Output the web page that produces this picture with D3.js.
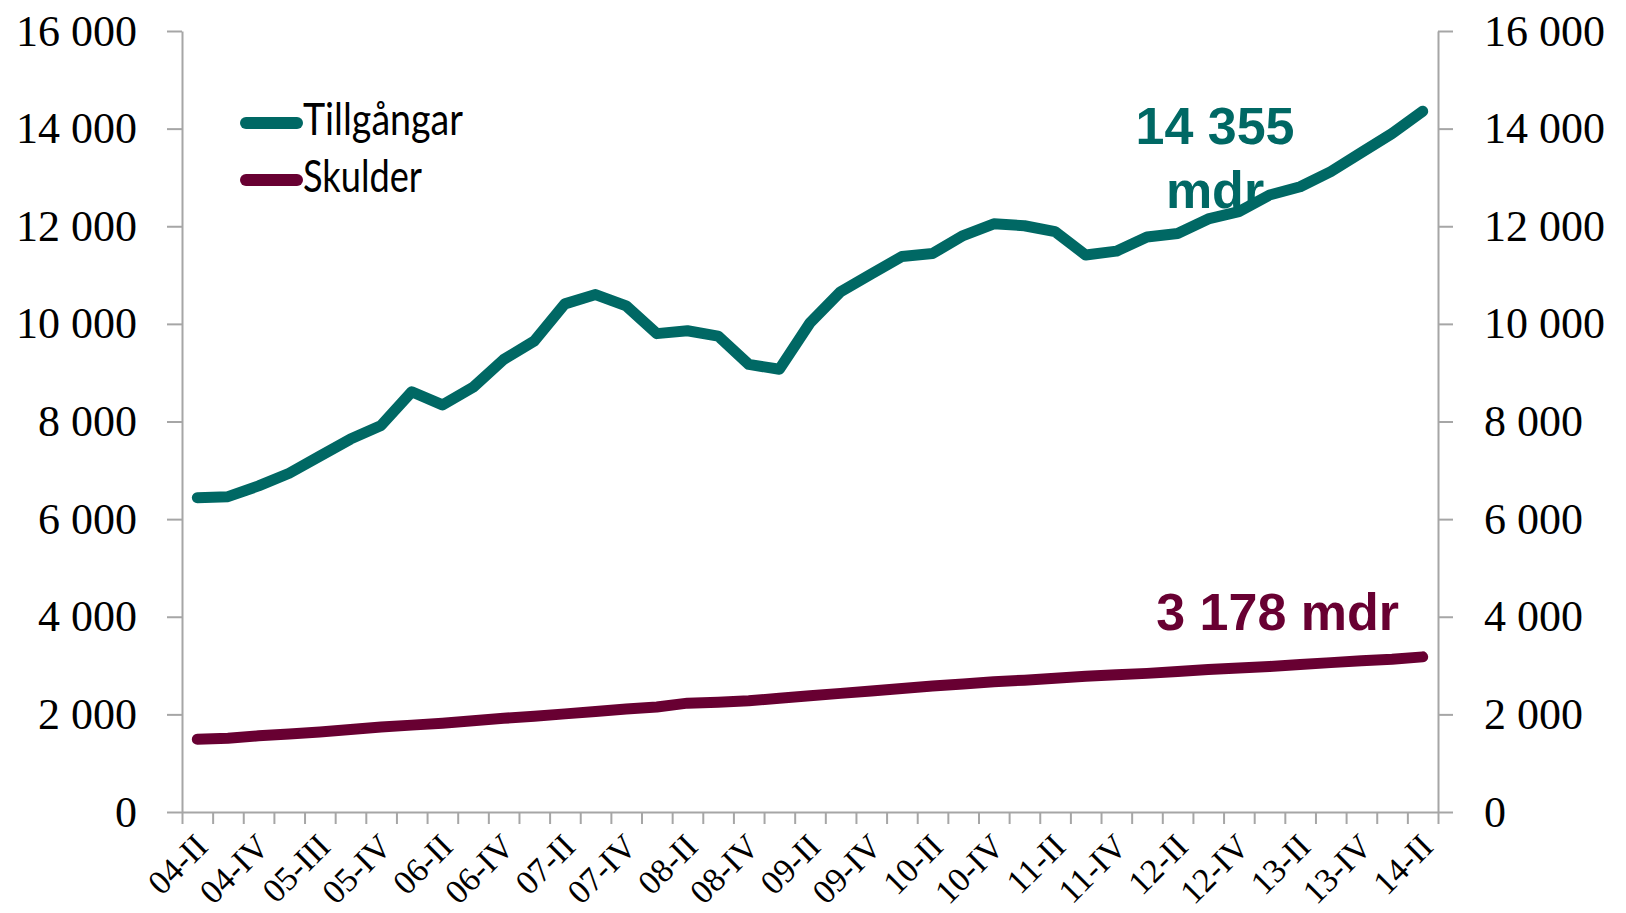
<!DOCTYPE html>
<html>
<head>
<meta charset="utf-8">
<script src="https://cdn.jsdelivr.net/npm/d3@7"></script>
<style>
  body { margin: 0; background: white; }
  svg { display: block; }
</style>
</head>
<body>
<div id="chart"></div>
<script>
// quarters 04-II .. 14-II
var quarters = ["04-II","04-III","04-IV","05-I","05-II","05-III","05-IV","06-I","06-II","06-III","06-IV",
  "07-I","07-II","07-III","07-IV","08-I","08-II","08-III","08-IV","09-I","09-II","09-III","09-IV",
  "10-I","10-II","10-III","10-IV","11-I","11-II","11-III","11-IV","12-I","12-II","12-III","12-IV",
  "13-I","13-II","13-III","13-IV","14-I","14-II"];

// labels shown under every second quarter (as printed in the original)
var tickLabels = ["04-II","04-IV","05-III","05-IV","06-II","06-IV","07-II","07-IV","08-II","08-IV",
  "09-II","09-IV","10-II","10-IV","11-II","11-IV","12-II","12-IV","13-II","13-IV","14-II"];

var tillgangar = [6440, 6460, 6680, 6940, 7290, 7640, 7920, 8610, 8340, 8700, 9270,
  9650, 10410, 10600, 10370, 9800, 9860, 9750, 9170, 9070, 10020, 10660, 11020,
  11380, 11440, 11810, 12050, 12010, 11890, 11410, 11490, 11780, 11850, 12150, 12300,
  12640, 12810, 13120, 13510, 13900, 14355];

var skulder = [1490, 1510, 1560, 1600, 1640, 1690, 1740, 1780, 1820, 1870, 1920,
  1960, 2010, 2060, 2110, 2150, 2230, 2250, 2280, 2330, 2380, 2430, 2480,
  2530, 2580, 2620, 2670, 2700, 2740, 2780, 2810, 2840, 2880, 2920, 2950,
  2980, 3020, 3060, 3100, 3130, 3178];

var yTicks = [0, 2000, 4000, 6000, 8000, 10000, 12000, 14000, 16000];

var teal = "#006864", maroon = "#680032";

var width = 1626, height = 913;
var plotLeft = 182, plotRight = 1438, plotTop = 31, plotBottom = 812;

var svg = d3.select("#chart").append("svg")
  .attr("width", width)
  .attr("height", height);

var x = d3.scaleBand().domain(quarters).range([plotLeft, plotRight]).padding(0);
var y = d3.scaleLinear().domain([0, 16000]).range([plotBottom, plotTop]);

var sv = d3.formatLocale({decimal: ",", thousands: " ", grouping: [3], currency: ["", ""]});
var fmt = sv.format(",d");

function styleAxis(g) {
  g.selectAll("path, line").attr("stroke", "#a6a6a6").attr("stroke-width", 2);
  g.selectAll("text").attr("fill", "#000")
    .style("font-family", "'Liberation Serif', 'Times New Roman', serif");
}

// left axis
svg.append("g")
  .attr("transform", "translate(" + plotLeft + ",0)")
  .call(d3.axisLeft(y).tickValues(yTicks).tickFormat(fmt).tickSize(15).tickSizeOuter(0).tickPadding(30))
  .call(styleAxis)
  .selectAll("text").style("font-size", "44px");

// right axis
svg.append("g")
  .attr("transform", "translate(" + plotRight + ",0)")
  .call(d3.axisRight(y).tickValues(yTicks).tickFormat(fmt).tickSize(15).tickSizeOuter(0).tickPadding(31))
  .call(styleAxis)
  .selectAll("text").style("font-size", "44px");

// x axis line + tick marks at the band edges
var edges = d3.scaleLinear().domain([0, quarters.length]).range([plotLeft, plotRight]);
svg.append("g")
  .attr("transform", "translate(0," + plotBottom + ")")
  .call(d3.axisBottom(edges).tickValues(d3.range(quarters.length + 1)).tickFormat("").tickSize(12).tickSizeOuter(0))
  .call(styleAxis);

// category labels
svg.append("g")
  .selectAll("text")
  .data(tickLabels)
  .enter().append("text")
    .attr("transform", function(d, i) {
      var xc = x(quarters[i * 2]) + x.bandwidth() / 2;
      return "translate(" + (xc + 4) + "," + (plotBottom + 28) + ") rotate(-45)";
    })
    .attr("text-anchor", "end")
    .attr("dy", "0.35em")
    .style("font-family", "'Liberation Serif', 'Times New Roman', serif")
    .style("font-size", "34px")
    .text(function(d) { return d; });

// value annotations
var ann = svg.append("g")
  .style("font-family", "'Liberation Sans', Arial, sans-serif")
  .style("font-weight", "bold")
  .style("font-size", "52px");

ann.append("text")
  .attr("x", 1215).attr("y", 144)
  .attr("text-anchor", "middle")
  .attr("fill", teal)
  .text("14 355");
ann.append("text")
  .attr("x", 1215).attr("y", 208)
  .attr("text-anchor", "middle")
  .attr("fill", teal)
  .text("mdr");
ann.append("text")
  .attr("x", 1399).attr("y", 630)
  .attr("text-anchor", "end")
  .attr("fill", maroon)
  .text("3 178 mdr");

// lines
var line = d3.line()
  .x(function(d, i) { return x(quarters[i]) + x.bandwidth() / 2; })
  .y(function(d) { return y(d); });

var series = [
  {name: "Tillgångar", values: tillgangar, color: teal},
  {name: "Skulder", values: skulder, color: maroon}
];

svg.append("g")
  .selectAll("path")
  .data(series)
  .enter().append("path")
    .attr("d", function(d) { return line(d.values); })
    .attr("fill", "none")
    .attr("stroke", function(d) { return d.color; })
    .attr("stroke-width", 11)
    .attr("stroke-linecap", "round")
    .attr("stroke-linejoin", "round");

// legend
var legend = svg.append("g")
  .selectAll("g")
  .data(series)
  .enter().append("g")
    .attr("transform", function(d, i) { return "translate(246," + (123 + i * 57) + ")"; });

legend.append("line")
  .attr("x1", 0).attr("x2", 51)
  .attr("stroke", function(d) { return d.color; })
  .attr("stroke-width", 12)
  .attr("stroke-linecap", "round");

legend.append("text")
  .attr("x", 57)
  .attr("y", 12)
  .attr("textLength", function(d, i) { return i == 0 ? 160 : 119; })
  .attr("lengthAdjust", "spacingAndGlyphs")
  .style("font-family", "Lato, 'Noto Sans', sans-serif")
  .style("font-size", "44px")
  .text(function(d) { return d.name; });
</script>
</body>
</html>
